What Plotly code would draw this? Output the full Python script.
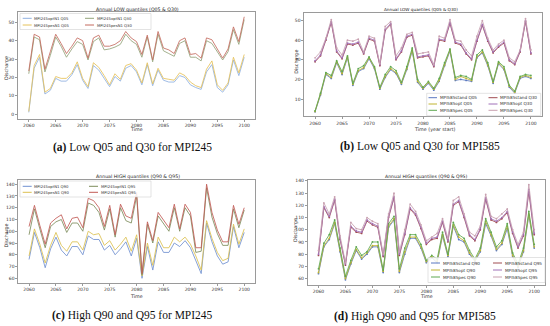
import plotly.graph_objects as go

years = list(range(2060, 2101))

# ---------- Panel (a): MPI245 low quantiles ----------
a_labels = ["MPI245optN1 Q05", "MPI245pesN1 Q05", "MPI245optN1 Q30", "MPI245pesN1 Q30"]
a_q05_opt = [1.0, 25, 31, 11, 13, 19.5, 18, 18, 21.5, 27, 18.5, 14, 26.5, 24, 19.5, 15, 20.5, 18, 25, 26.5,
             23, 16, 27, 15.5, 24, 18.5, 17.5, 17.5, 21, 20, 16, 14.5, 13.5, 23, 27, 14.5, 12, 16, 29.5, 21, 31]
a_q05_pes = [1.5, 26.5, 32.5, 12, 14, 20.5, 19.5, 19.5, 22.5, 28.5, 19.5, 15, 28, 25.5, 21, 16, 22, 19, 26.5, 27.5,
             24, 17, 28, 16.5, 25, 19.5, 19, 18.5, 22.5, 21, 17.5, 15.5, 14.5, 24.5, 29, 16, 13, 17, 31, 22.5, 32.5]
a_q30_opt = [22, 42, 40.5, 23, 32, 42, 37, 31, 35.5, 39.5, 38, 29.5, 39.5, 41.5, 35, 35.5, 36.5, 38, 43.5, 40,
             38, 31, 42, 28.5, 43.5, 34.5, 33, 31.5, 38.5, 40, 31, 31, 29, 40, 38.5, 34, 29.5, 34, 46, 38, 51.5]
a_q30_pes = [23.5, 43.5, 42, 24.5, 34, 43.5, 38.5, 33, 37, 41.5, 40, 30.5, 41.5, 43, 37, 37, 38, 40, 45, 41.5,
             39.5, 32.5, 43, 29.5, 45, 36, 35, 33, 40, 41.5, 32.5, 33, 30.5, 41.5, 40.5, 35.5, 30.5, 35.5, 47.5, 39.5, 53]

# ---------- Panel (b): MPI585 low quantiles ----------
b_labels = ["MPI585stand Q05", "MPI585opt Q05", "MPI585pes Q05", "MPI585stand Q30", "MPI585opt Q30", "MPI585pes Q30"]
b_q05_stand = [3.5, 12, 22.5, 20.5, 28.5, 22.5, 31, 17, 24, 25.5, 30.5, 25.5, 15, 21, 25, 23, 17.5, 25, 34.5, 18.5,
               15, 18, 14.5, 19, 27, 34.5, 19.5, 20, 19.5, 19, 31, 33.5, 27, 18, 28, 25, 16, 13, 20.5, 21.5, 20.5]
b_q05_opt = [3.7, 12.5, 23, 21, 29, 23, 31.5, 17.5, 24.5, 26, 31, 26, 15.5, 21.5, 25.5, 23.5, 18, 25.5, 35, 19,
             15.5, 18.5, 15, 19.5, 27.5, 35, 20, 21.5, 20.5, 19.5, 31.5, 34, 27.5, 18.5, 28.5, 25.5, 16.5, 13.5, 21, 22, 21]
b_q05_pes = [4, 13, 23.5, 22, 29.5, 24, 32, 18, 25.5, 27, 31.5, 26.5, 16, 22.5, 26.5, 24.5, 18.5, 26.5, 36, 20,
             16, 19, 15.5, 20.5, 28.5, 35.5, 21, 22, 21.5, 20, 32.5, 35, 28.5, 19, 29, 26.5, 17, 14, 21.5, 22.5, 22]
b_q30_stand = [29, 32, 40, 49, 34, 30.5, 38, 37.5, 38.5, 33, 40.5, 39.5, 27, 45, 48, 30, 34, 41.5, 42.5, 31,
               31.5, 32, 26.5, 40, 39.5, 48.5, 38.5, 37.5, 33, 30, 39.5, 47.5, 39.5, 33.5, 36.5, 38.5, 29.5, 27.5, 34, 49.5, 33]
b_q30_opt = [29.5, 32.5, 40.5, 49.5, 34.5, 31, 38.5, 38, 39, 33.5, 41, 40, 27.5, 45.5, 48.5, 30.5, 34.5, 42, 43, 31.5,
             32, 32.5, 27, 40.5, 40, 49, 39, 38, 33.5, 30.5, 40, 48, 40, 34, 37, 39, 30, 28, 34.5, 50, 33.5]
b_q30_pes = [31, 34, 41, 50.5, 36, 32.5, 40, 39.5, 40.5, 34, 42, 41, 28, 47, 49.5, 32, 36, 43, 44, 33,
             33.5, 34, 27.5, 42, 41, 50.5, 40, 39.5, 35, 32, 42, 50, 41, 35, 38, 40, 31, 29, 35, 51, 35]

# ---------- Panel (c): MPI245 high quantiles ----------
c_labels = ["MPI245optN1 Q90", "MPI245pesN1 Q90", "MPI245optN1 Q95", "MPI245pesN1 Q95"]
c_q90_opt = [76, 99, 86, 69, 85, 95, 84, 79, 87, 87, 80, 96, 93, 93, 84, 88, 80, 85, 91, 79,
             94, 60, 87, 67, 91, 82, 82, 90, 87, 92, 86, 75, 64, 107, 91, 79, 72, 74, 104, 86, 99]
c_q90_pes = [79, 102, 89, 73, 88, 99, 88, 83, 91, 91, 84, 100, 97, 98, 88, 92, 84, 89, 95, 83,
             97, 62, 90, 71, 95, 86, 86, 95, 91, 95, 89, 79, 67, 109, 94, 82, 75, 77, 106, 89, 102]
c_q95_opt = [97, 119, 102, 86, 104, 108, 110, 99, 107, 107, 100, 124, 122, 116, 101, 119, 95, 120, 109, 107,
             130, 63, 106, 90, 113, 107, 100, 120, 100, 120, 113, 82, 83, 137, 112, 98, 88, 88, 119, 103, 118]
c_q95_pes = [104, 122, 105, 89, 107, 111, 114, 102, 111, 112, 103, 128, 126, 120, 104, 122, 97, 123, 113, 111,
             133, 64, 108, 92, 116, 110, 103, 123, 102, 123, 116, 86, 86, 140, 116, 101, 91, 91, 122, 106, 120]

# ---------- Panel (d): MPI585 high quantiles ----------
d_labels = ["MPI585stand Q90", "MPI585opt Q90", "MPI585pes Q90", "MPI585stand Q95", "MPI585opt Q95", "MPI585pes Q95"]
d_q90_stand = [64, 86, 92, 105, 82, 59, 72, 83, 76, 80, 86, 86, 65, 102, 108, 65, 80, 93, 93, 85,
               73, 77, 73, 95, 78, 103, 92, 90, 80, 74, 82, 105, 95, 83, 88, 101, 78, 69, 82, 112, 85]
d_q90_opt = [65, 87, 93, 106, 83, 60, 73, 84, 77, 81, 87, 87, 66, 103, 109, 66, 82, 94, 94, 86,
             74, 78, 74, 96, 79, 104, 94, 91, 81, 75, 83, 107, 96, 84, 89, 103, 79, 70, 83, 113, 86]
d_q90_pes = [68, 89, 96, 108, 85, 62, 75, 86, 79, 82, 90, 90, 67, 105, 111, 68, 85, 96, 96, 88,
             75, 79, 76, 98, 80, 106, 96, 93, 83, 76, 85, 109, 98, 86, 91, 105, 81, 72, 85, 115, 88]
d_q95_stand = [79, 118, 110, 124, 92, 71, 102, 98, 97, 107, 104, 102, 78, 110, 126, 79, 96, 117, 112, 101,
               88, 92, 93, 106, 90, 120, 123, 110, 95, 91, 100, 125, 108, 106, 109, 114, 97, 85, 95, 131, 96]
d_q95_opt = [80, 119, 111, 125, 93, 72, 103, 99, 98, 108, 105, 103, 79, 111, 127, 80, 97, 118, 113, 102,
             89, 93, 94, 107, 91, 121, 124, 111, 96, 92, 101, 126, 109, 107, 110, 115, 98, 86, 96, 133, 97]
d_q95_pes = [83, 122, 113, 127, 95, 73, 106, 101, 100, 110, 107, 105, 80, 113, 130, 82, 100, 121, 115, 104,
             91, 94, 97, 109, 93, 124, 127, 113, 98, 95, 103, 129, 111, 109, 113, 117, 100, 88, 98, 137, 100]

x_ticks = [2060, 2065, 2070, 2075, 2080, 2085, 2090, 2095, 2100]
a_yticks = [0, 10, 20, 30, 40, 50]
b_yticks = [10, 20, 30, 40, 50]
h_yticks = [60, 70, 80, 90, 100, 110, 120, 130, 140]

titles = ["Annual LOW quantiles (Q05 & Q30)", "Annual LOW quantiles (Q05 & Q30)",
          "Annual HIGH quantiles (Q90 & Q95)", "Annual HIGH quantiles (Q90 & Q95)"]
xtitles = ["Time", "Time (year start)", "Time", "Time"]
captions = ["<b>(a)</b> Low Q05 and Q30 for MPI245", "<b>(b)</b> Low Q05 and Q30 for MPI585",
            "<b>(c)</b> High Q90 and Q95 for MPI245", "<b>(d)</b> High Q90 and Q95 for MPI585"]

W, H = 550, 326
def PX(x): return x / W
def PY(y): return 1 - y / H

col4 = ["#8fb0e0", "#e6c25a", "#93a37a", "#c46a5e"]
col4c = ["#7090d0", "#dcc050", "#7d8c5c", "#c25a55"]
col6 = ["#5a78c0", "#c0b430", "#5ea850", "#a04c50", "#a070b8", "#c8a0b0"]

panels = [
    dict(ax="", data=[a_q05_opt, a_q05_pes, a_q30_opt, a_q30_pes], labels=a_labels, colors=col4,
         dom=((18, 255), (12, 119)), yr=[-2.6, 55.6], yt=a_yticks, markers=False),
    dict(ax="2", data=[b_q05_stand, b_q05_opt, b_q05_pes, b_q30_stand, b_q30_opt, b_q30_pes], labels=b_labels,
         colors=col6, dom=((304.3, 541.7), (12.7, 116.3)), yr=[1.2, 54.0], yt=b_yticks, markers=True),
    dict(ax="3", data=[c_q90_opt, c_q90_pes, c_q95_opt, c_q95_pes], labels=c_labels, colors=col4c,
         dom=((18.3, 255), (179.5, 283)), yr=[56, 144], yt=h_yticks, markers=False),
    dict(ax="4", data=[d_q90_stand, d_q90_opt, d_q90_pes, d_q95_stand, d_q95_opt, d_q95_pes], labels=d_labels,
         colors=col6, dom=((307.7, 545), (179.7, 284.7)), yr=[55, 141], yt=h_yticks, markers=True),
]

fig = go.Figure()
layout = dict(width=W, height=H, margin=dict(l=0, r=0, t=0, b=0), paper_bgcolor="white",
              plot_bgcolor="white", showlegend=False, font=dict(family="DejaVu Sans", color="#333"))
frame = "#9a9a9a"
for p in panels:
    k = p["ax"]
    (x0, x1), (yt0, yb0) = p["dom"]
    layout["xaxis" + k] = dict(domain=[PX(x0), PX(x1)], range=[2058, 2102], tickvals=x_ticks,
                               anchor="y" + k, showline=True, mirror=True, linecolor=frame, linewidth=0.8,
                               ticks="outside", ticklen=2, tickcolor=frame, showgrid=False, zeroline=False,
                               tickfont=dict(size=4.5, color="#333"))
    layout["yaxis" + k] = dict(domain=[PY(yb0), PY(yt0)], range=p["yr"], tickvals=p["yt"],
                               anchor="x" + k, showline=True, mirror=True, linecolor=frame, linewidth=0.8,
                               ticks="outside", ticklen=2, tickcolor=frame, showgrid=False, zeroline=False,
                               tickfont=dict(size=4.5, color="#333"))
    for vals, lab, c in zip(p["data"], p["labels"], p["colors"]):
        fig.add_trace(go.Scatter(x=years, y=vals, name=lab, xaxis="x" + k, yaxis="y" + k,
                                 mode="lines+markers" if p["markers"] else "lines",
                                 line=dict(color=c, width=0.85), marker=dict(size=1.8, color=c)))

fig.update_layout(**layout)

ann = []
shapes = []
title_pos = [(137.5, 9.5), (420.5, 9.5), (138.3, 176.5), (426.3, 176.5)]
title_size = [4.7, 4.2, 4.7, 4.6]
xt_pos = [(136.7, 130), (435, 130), (136.7, 296), (426.7, 296)]
yt_pos = [(6, 68), (295.7, 62), (5.5, 236), (295, 230)]
cap_pos = [(132.5, 147), (420, 146.7), (132, 315.7), (415, 316)]
for i in range(4):
    ann.append(dict(x=PX(title_pos[i][0]), y=PY(title_pos[i][1]), xref="paper", yref="paper",
                    text=titles[i], showarrow=False, borderpad=0, font=dict(size=title_size[i], color="#222"),
                    xanchor="center", yanchor="middle"))
    ann.append(dict(x=PX(xt_pos[i][0]), y=PY(xt_pos[i][1]), xref="paper", yref="paper",
                    text=xtitles[i], showarrow=False, borderpad=0, font=dict(size=4.8, color="#333"),
                    xanchor="center", yanchor="middle"))
    ann.append(dict(x=PX(yt_pos[i][0]), y=PY(yt_pos[i][1]), xref="paper", yref="paper",
                    text="Discharge", showarrow=False, borderpad=0, textangle=-90,
                    font=dict(size=4.8, color="#333"), xanchor="center", yanchor="middle"))
    ann.append(dict(x=PX(cap_pos[i][0]), y=PY(cap_pos[i][1]), xref="paper", yref="paper",
                    text=captions[i], showarrow=False, borderpad=0,
                    font=dict(family="Liberation Serif", size=11.5, color="#111"),
                    xanchor="center", yanchor="middle"))

legspec = [
    dict(box=(20, 151, 13.5, 29.5), rows=[18.3, 25], cols=[(22.7, 31.7, 33.3), (85, 94, 96)], size=3.8, nrow=2),
    dict(box=(426.7, 540.7, 93.3, 115.7), rows=[97.7, 104, 110.3], cols=[(428.5, 437, 438.5), (488.5, 497.5, 499)],
         size=4.2, nrow=3),
    dict(box=(20, 151, 181, 197), rows=[186.3, 192.3], cols=[(22.7, 31.7, 33.3), (89, 98, 100)], size=3.8, nrow=2),
    dict(box=(428, 545, 257.5, 282.5), rows=[263, 270, 277], cols=[(431, 440, 442), (493, 502, 503.5)],
         size=4.2, nrow=3),
]
for p, L in zip(panels, legspec):
    bx0, bx1, by0, by1 = L["box"]
    shapes.append(dict(type="rect", xref="paper", yref="paper", x0=PX(bx0), x1=PX(bx1), y0=PY(by1), y1=PY(by0),
                       fillcolor="rgba(255,255,255,0.85)", line=dict(color="#d0d0d0", width=0.6), layer="above"))
    for j, (lab, c) in enumerate(zip(p["labels"], p["colors"])):
        ci, ri = divmod(j, L["nrow"])
        lx0, lx1, tx = L["cols"][ci]
        ry = L["rows"][ri]
        shapes.append(dict(type="line", xref="paper", yref="paper", x0=PX(lx0), x1=PX(lx1), y0=PY(ry), y1=PY(ry),
                           line=dict(color=c, width=1), layer="above"))
        ann.append(dict(x=PX(tx), y=PY(ry), xref="paper", yref="paper", text=lab, showarrow=False, borderpad=0,
                        font=dict(size=L["size"], color="#333"), xanchor="left", yanchor="middle"))

fig.update_layout(annotations=ann, shapes=shapes)
fig.write_html("out.html", config={"displayModeBar": False},
               post_script="document.body.style.margin='0';document.body.style.padding='0';"
                           "document.body.style.overflow='hidden';")
